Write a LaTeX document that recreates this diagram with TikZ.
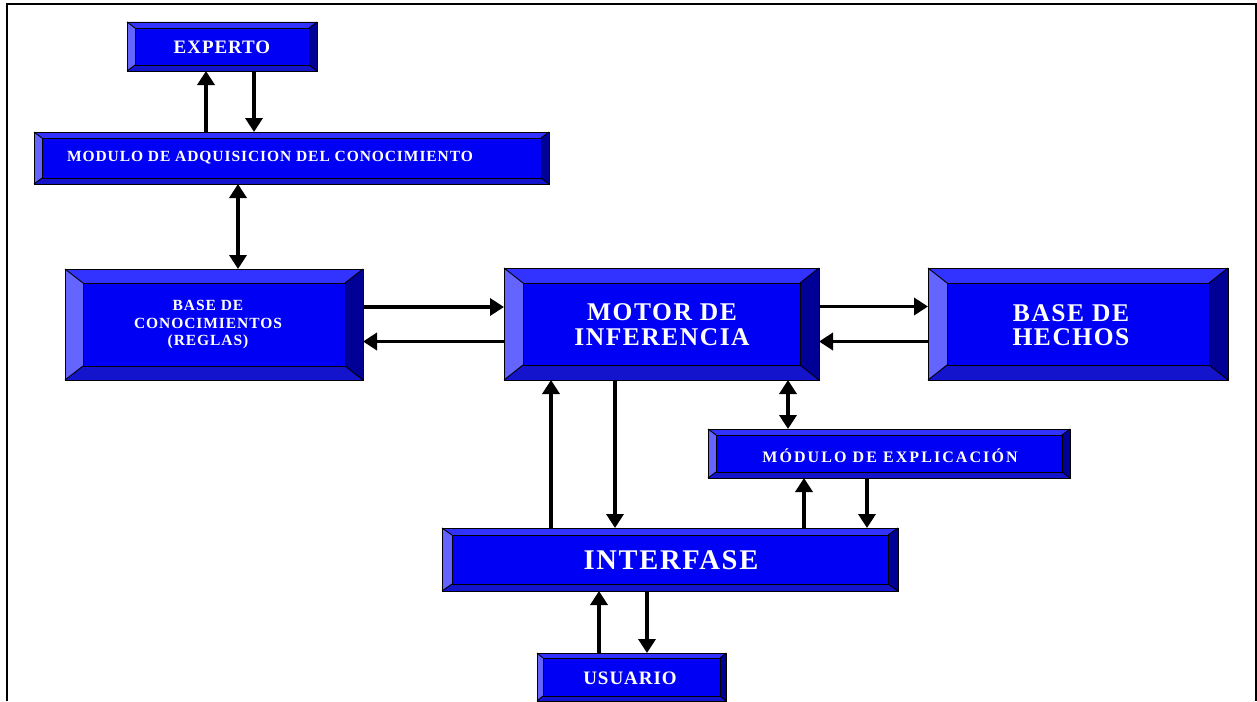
\documentclass[tikz,border=0pt]{standalone}
\usepackage{fontspec}
\setmainfont{Liberation Serif}
\usetikzlibrary{arrows.meta}
\definecolor{bvface}{RGB}{0,0,245}
\definecolor{bvtop}{RGB}{51,51,255}
\definecolor{bvleft}{RGB}{100,100,255}
\definecolor{bvright}{RGB}{0,0,150}
\definecolor{bvbottom}{RGB}{20,20,205}
\tikzset{
  bvnode/.style={inner sep=0pt, outer sep=0pt, draw=none},
  lbl/.style={text=white, align=center, inner sep=0pt},
  conn/.style={line width=3.5pt, -{Triangle[width=17pt,length=14pt]}},
  conntwo/.style={line width=3.5pt, {Triangle[width=17pt,length=14pt]}-{Triangle[width=17pt,length=14pt]}},
  edge line/.style={draw=black, line width=0.9pt},
}
% bevelled box: name, x1, y1, x2, y2, bevel x, bevel y
\newcommand\bevelbox[7]{%
  \fill[bvtop] (#2,#3) -- (#4,#3) -- ({#4-#6},{#3+#7}) -- ({#2+#6},{#3+#7}) -- cycle;
  \fill[bvleft] (#2,#3) -- ({#2+#6},{#3+#7}) -- ({#2+#6},{#5-#7}) -- (#2,#5) -- cycle;
  \fill[bvright] (#4,#3) -- ({#4-#6},{#3+#7}) -- ({#4-#6},{#5-#7}) -- (#4,#5) -- cycle;
  \fill[bvbottom] (#2,#5) -- ({#2+#6},{#5-#7}) -- ({#4-#6},{#5-#7}) -- (#4,#5) -- cycle;
  \fill[bvface] ({#2+#6},{#3+#7}) rectangle ({#4-#6},{#5-#7});
  \draw[edge line] (#2,#3) rectangle (#4,#5);
  \draw[edge line] ({#2+#6},{#3+#7}) rectangle ({#4-#6},{#5-#7});
  \draw[edge line] (#2,#3) -- ({#2+#6},{#3+#7}) (#4,#3) -- ({#4-#6},{#3+#7})
    (#2,#5) -- ({#2+#6},{#5-#7}) (#4,#5) -- ({#4-#6},{#5-#7});
  \node[bvnode, minimum width={#4pt-#2pt}, minimum height={#5pt-#3pt}]
    (#1) at ({(#2+#4)/2},{(#3+#5)/2}) {};
}
% white bold letter-spaced label: size, leading, spacing
\newcommand\lblfont[3]{\fontsize{#1}{#2}\selectfont\bfseries\addfontfeature{LetterSpace=#3}}
\begin{document}
\begin{tikzpicture}[x=1pt,y=-1pt]
\useasboundingbox (0,0) rectangle (1257,701);
\fill[white] (0,0) rectangle (1257,701);
% outer frame
\draw[line width=2.2pt] (7,701) -- (7,4) -- (1256,4) -- (1256,701);

% boxes
\bevelbox{experto}{127}{22}{317}{71}{8}{6}
\bevelbox{adq}{34}{132}{549}{184}{8}{6}
\bevelbox{basecon}{65}{269}{363}{380}{18}{14}
\bevelbox{motor}{504}{268}{819}{380}{19}{15}
\bevelbox{hechos}{928}{268}{1228}{380}{19}{15}
\bevelbox{explic}{708}{429}{1070}{478}{8}{6}
\bevelbox{interfase}{442}{528}{898}{591}{10}{7}
\bevelbox{usuario}{537}{653}{726}{701}{6}{5}

% labels
\node[lbl, font={\lblfont{19}{22}{5}}] (lexperto) at (222,47) {EXPERTO};
\node[lbl, font={\lblfont{15.5}{18}{6}}] (ladq) at (270,157.5) {MODULO DE ADQUISICION DEL CONOCIMIENTO};
\node[lbl, font={\lblfont{15.5}{17.5}{6}}] (lbasecon) at (208,325) {BASE DE\\CONOCIMIENTOS\\(REGLAS)};
\node[lbl, font={\lblfont{25.5}{25}{6}}] (lmotor) at (662,325) {MOTOR DE\\INFERENCIA};
\node[lbl, font={\lblfont{25.5}{24}{6}}] (lhechos) at (1071,325.5) {BASE DE\\HECHOS};
\node[lbl, font={\lblfont{16}{19}{13}}] (lexplic) at (890,456) {MÓDULO DE EXPLICACIÓN};
\node[lbl, font={\lblfont{28.5}{30}{6}}] (linterfase) at (671,560) {INTERFASE};
\node[lbl, font={\lblfont{19}{22}{5}}] (lusuario) at (630,678) {USUARIO};

% connectors
\draw[conn] ([xshift=-16pt]experto.south |- adq.north) -- ([xshift=-16pt]experto.south);
\draw[conn] ([xshift=32pt]experto.south) -- ([xshift=32pt]experto.south |- adq.north);
\draw[conntwo] ([xshift=24pt]basecon.north |- adq.south) -- ([xshift=24pt]basecon.north);
\draw[conn] ([yshift=17.5pt]basecon.east) -- ([yshift=17.5pt]basecon.east -| motor.west);
\draw[conn] ([yshift=-17.5pt]motor.west) -- ([yshift=-17.5pt]motor.west -| basecon.east);
\draw[conn] ([yshift=17.5pt]motor.east) -- ([yshift=17.5pt]motor.east -| hechos.west);
\draw[conn] ([yshift=-17.5pt]hechos.west) -- ([yshift=-17.5pt]hechos.west -| motor.east);
\draw[conntwo] ([xshift=126.5pt]motor.south) -- ([xshift=126.5pt]motor.south |- explic.north);
\draw[conn] ([xshift=-119pt]interfase.north) -- ([xshift=-119pt]interfase.north |- motor.south);
\draw[conn] ([xshift=-55pt]interfase.north |- motor.south) -- ([xshift=-55pt]interfase.north);
\draw[conn] ([xshift=-85pt]explic.south |- interfase.north) -- ([xshift=-85pt]explic.south);
\draw[conn] ([xshift=-22pt]explic.south) -- ([xshift=-22pt]explic.south |- interfase.north);
\draw[conn] ([xshift=-32.5pt]usuario.north) -- ([xshift=-32.5pt]usuario.north |- interfase.south);
\draw[conn] ([xshift=15.5pt]usuario.north |- interfase.south) -- ([xshift=15.5pt]usuario.north);
\end{tikzpicture}
\end{document}
